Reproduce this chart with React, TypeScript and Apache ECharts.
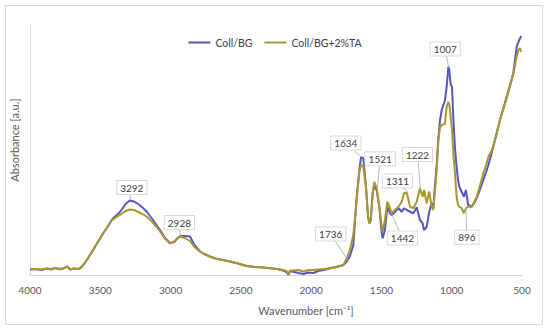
import React, { useEffect, useRef } from "react";
import * as echarts from "echarts";

const wavenumbers = [
  4000, 3960, 3920, 3880, 3850, 3820, 3790, 3760, 3735, 3715, 3690, 3660, 3640, 3610, 3573, 3530,
  3478, 3440, 3419, 3390, 3360, 3320, 3290, 3260, 3230, 3200, 3170, 3130, 3100, 3075, 3040, 3004,
  2975, 2950, 2930, 2900, 2862, 2830, 2791, 2760, 2720, 2680, 2630, 2577, 2520, 2459, 2400, 2340,
  2293, 2240, 2200, 2175, 2162, 2150, 2120, 2090, 2055, 2020, 1985, 1950, 1910, 1866, 1820, 1771,
  1747, 1724, 1700, 1676, 1657, 1645, 1629, 1610, 1595, 1586, 1576, 1562, 1551, 1534, 1515, 1498,
  1491, 1475, 1458, 1439, 1427, 1403, 1379, 1355, 1339, 1320, 1296, 1273, 1249, 1226, 1207, 1197,
  1178, 1160, 1143, 1131, 1119, 1107, 1095, 1083, 1071, 1048, 1036, 1024, 1017, 1012, 1007, 998,
  989, 977, 965, 955, 946, 929, 913, 899, 883, 858, 840, 822, 800, 775, 755, 739,
  716, 692, 657, 630, 609, 585, 562, 545, 538, 525, 514, 505,
];

const collBG = [
  0.022, 0.024, 0.02, 0.026, 0.022, 0.028, 0.024, 0.026, 0.034, 0.022, 0.026, 0.024, 0.028, 0.048, 0.08, 0.12,
  0.168, 0.2, 0.22, 0.236, 0.252, 0.284, 0.298, 0.294, 0.284, 0.27, 0.254, 0.224, 0.2, 0.18, 0.148, 0.128,
  0.132, 0.148, 0.156, 0.156, 0.154, 0.12, 0.094, 0.084, 0.074, 0.066, 0.06, 0.054, 0.046, 0.036, 0.032, 0.03,
  0.027, 0.024, 0.018, 0.012, 0.0, 0.016, 0.012, 0.008, 0.004, 0.01, 0.008, 0.016, 0.02, 0.027, 0.032, 0.04,
  0.054, 0.076, 0.12, 0.313, 0.42, 0.471, 0.467, 0.353, 0.233, 0.207, 0.22, 0.327, 0.36, 0.34, 0.273, 0.167,
  0.147, 0.18, 0.273, 0.247, 0.24, 0.253, 0.267, 0.253, 0.267, 0.26, 0.253, 0.247, 0.271, 0.22, 0.207, 0.18,
  0.193, 0.253, 0.287, 0.268, 0.36, 0.44, 0.548, 0.62, 0.66, 0.7, 0.753, 0.833, 0.82, 0.788, 0.76, 0.753,
  0.632, 0.508, 0.432, 0.38, 0.353, 0.333, 0.313, 0.34, 0.28, 0.273, 0.288, 0.307, 0.34, 0.38, 0.412, 0.44,
  0.488, 0.54, 0.62, 0.672, 0.713, 0.76, 0.807, 0.88, 0.913, 0.932, 0.947, 0.956,
];

const collBGTA = [
  0.022, 0.024, 0.022, 0.026, 0.024, 0.028, 0.022, 0.028, 0.034, 0.022, 0.026, 0.024, 0.028, 0.048, 0.08, 0.12,
  0.168, 0.2, 0.218, 0.23, 0.24, 0.256, 0.262, 0.26, 0.252, 0.244, 0.234, 0.212, 0.192, 0.174, 0.146, 0.126,
  0.132, 0.146, 0.154, 0.148, 0.136, 0.112, 0.094, 0.084, 0.074, 0.066, 0.06, 0.054, 0.046, 0.036, 0.032, 0.03,
  0.027, 0.024, 0.02, 0.016, 0.002, 0.018, 0.018, 0.02, 0.014, 0.02, 0.02, 0.022, 0.024, 0.027, 0.032, 0.04,
  0.066, 0.1, 0.16, 0.3, 0.412, 0.44, 0.433, 0.353, 0.233, 0.207, 0.22, 0.327, 0.373, 0.347, 0.273, 0.193,
  0.173, 0.22, 0.293, 0.267, 0.247, 0.26, 0.273, 0.293, 0.327, 0.329, 0.273, 0.267, 0.293, 0.347, 0.313, 0.34,
  0.287, 0.333, 0.273, 0.26, 0.34, 0.42, 0.54, 0.592, 0.6, 0.604, 0.673, 0.693, 0.68, 0.66, 0.628, 0.58,
  0.492, 0.408, 0.312, 0.28, 0.273, 0.267, 0.247, 0.267, 0.273, 0.273, 0.292, 0.312, 0.356, 0.407, 0.44, 0.473,
  0.496, 0.54, 0.62, 0.668, 0.708, 0.756, 0.804, 0.852, 0.873, 0.9, 0.907, 0.893,
];

const seriesNames = ["Coll/BG", "Coll/BG+2%TA"];
const xTicks = [500, 4000, 500];

// Peak annotations: label, anchor wavenumber, anchor value, box offset in px
const peakLabels = ["3292", "2928", "1736", "1634", "1521", "1311", "1442", "1222", "1007", "896"];
const peakWn = [3290, 2930, 1740, 1640, 1530, 1311, 1440, 1222, 1022, 899];
const peakVal = [0.298, 0.156, 0.06, 0.47, 0.345, 0.33, 0.26, 0.34, 0.83, 0.267];
const peakDx = [2, -1, -17, -16, 3, -10.5, 12.6, -3, -3.4, 1];
const peakDy = [-13, -13.5, -26, -14.5, -30, -11.5, 28, -35.5, -18.5, 29];

const FONT = "Lato";

export default function App() {
  const ref = useRef<HTMLDivElement>(null);
  useEffect(() => {
    if (!ref.current) return;
    const chart = echarts.init(ref.current, null, { renderer: "svg" });
    const toPairs = (vals: number[]) => wavenumbers.map((w, i) => [w, vals[i]]);
    chart.setOption({
      animation: false,
      backgroundColor: "#ffffff",
      textStyle: { fontFamily: FONT },
      grid: { left: 30, right: 28, top: 25, bottom: 56 },
      legend: {
        data: seriesNames,
        left: "center",
        top: 32,
        icon: "rect",
        itemWidth: 22,
        itemHeight: 2,
        itemGap: 12,
        textStyle: { fontFamily: FONT, fontSize: 10.5, color: "#404040" },
      },
      xAxis: {
        type: "value",
        inverse: true,
        min: xTicks[0],
        max: xTicks[1],
        interval: xTicks[2],
        axisLine: { show: true, onZero: false, lineStyle: { color: "#d9d9d9", width: 1 } },
        axisTick: { show: false },
        splitLine: { show: false },
        axisLabel: {
          color: "#595959",
          fontSize: 10,
          margin: 10,
          fontFamily: FONT,
          formatter: (v: number) => String(v),
        },
      },
      yAxis: {
        type: "value",
        min: 0,
        max: 1,
        axisLine: { show: true, onZero: false, lineStyle: { color: "#d9d9d9", width: 1 } },
        axisTick: { show: false },
        splitLine: { show: false },
        axisLabel: { show: false },
      },
      series: [
        {
          name: seriesNames[0],
          type: "line",
          data: toPairs(collBG),
          symbol: "none",
          showSymbol: false,
          color: "#5656bd",
          lineStyle: { width: 2, color: "#5656bd" },
          z: 2,
        },
        {
          name: seriesNames[1],
          type: "line",
          data: toPairs(collBGTA),
          symbol: "none",
          showSymbol: false,
          color: "#a8962f",
          lineStyle: { width: 2, color: "#a8962f" },
          z: 3,
        },
      ],
    });

    const graphics: any[] = [
      {
        type: "rect",
        shape: { x: 5.5, y: 5.5, width: 537, height: 319 },
        style: { fill: "none", stroke: "#d9d9d9", lineWidth: 1 },
        silent: true,
        z: 0,
      },
      {
        type: "text",
        x: 14,
        y: 140,
        rotation: Math.PI / 2,
        style: {
          text: "Absorbance [a.u.]",
          fill: "#595959",
          fontSize: 11,
          fontFamily: FONT,
          align: "center",
          verticalAlign: "middle",
        },
      },
      {
        type: "text",
        x: 306,
        y: 310,
        style: {
          text: "Wavenumber [cm⁻¹]",
          fill: "#595959",
          fontSize: 11,
          fontFamily: FONT,
          align: "center",
          verticalAlign: "middle",
        },
      },
    ];

    peakLabels.forEach((lab, i) => {
      const p = chart.convertToPixel({ gridIndex: 0 }, [peakWn[i], peakVal[i]]) as number[];
      const cx = p[0] + peakDx[i];
      const cy = p[1] + peakDy[i];
      graphics.push({
        type: "line",
        shape: { x1: p[0], y1: p[1], x2: cx, y2: cy },
        style: { stroke: "#a6a6a6", lineWidth: 0.8 },
        z: 50,
      });
      graphics.push({
        type: "text",
        x: cx,
        y: cy,
        z: 60,
        style: {
          text: lab,
          fill: "#404040",
          fontSize: 10,
          fontFamily: FONT,
          align: "center",
          verticalAlign: "middle",
          backgroundColor: "#ffffff",
          borderColor: "#d9d9d9",
          borderWidth: 1,
          padding: [2, 3, 1, 3],
        },
      });
    });

    chart.setOption({ graphic: graphics });
    return () => chart.dispose();
  }, []);
  return (
    <div
      ref={ref}
      style={{ position: "absolute", left: 0, top: 0, width: 550, height: 331, background: "#fff" }}
    />
  );
}
